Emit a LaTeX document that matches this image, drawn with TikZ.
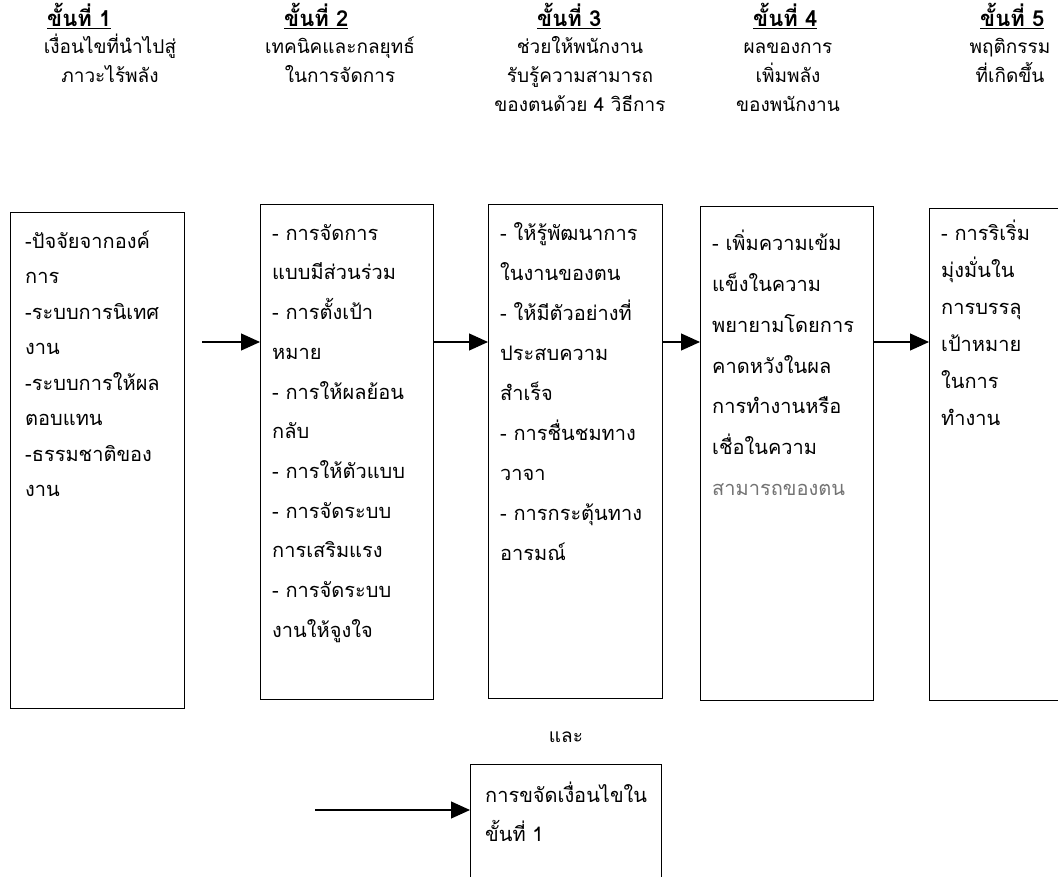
\documentclass[tikz,border=0pt]{standalone}
\usepackage{fontspec}
\usepackage{tikz}
\usetikzlibrary{arrows.meta}
\newfontfamily\thaifont[Script=Thai]{Loma}
\newcommand{\tallstrut}{\rule{0pt}{20pt}}
\tikzset{
    box/.style={draw, rectangle, line width=1.1pt, anchor=north west, inner sep=0pt},
    boxtext/.style={anchor=north west, align=left, inner sep=0pt,
        font=\thaifont\fontsize{20}{#1}\selectfont},
    boxtext/.default=39,
    head/.style={anchor=base west, inner sep=0pt,
        font=\thaifont\bfseries\fontsize{22}{29}\selectfont},
    desc/.style={anchor=north, align=center, inner sep=0pt,
        font=\thaifont\fontsize{19}{29}\selectfont},
    arr/.style={line width=1.1pt, -{Triangle[length=19pt, width=17pt]}}
}

\begin{document}
\begin{tikzpicture}[x=1pt, y=-1pt]
	\useasboundingbox (0,0) rectangle (1058,877);

	% headings
	\node (h1) [head] at (47,27) {\underline{ขั้นที่ 1}};
	\node (h2) [head] at (284,27) {\underline{ขั้นที่ 2}};
	\node (h3) [head] at (537,27) {\underline{ขั้นที่ 3}};
	\node (h4) [head] at (753,27) {\underline{ขั้นที่ 4}};
	\node (h5) [head] at (980,27) {\underline{ขั้นที่ 5}};
	\node (d1) [desc] at (110,33) {\tallstrut เงื่อนไขที่นำไปสู่\\ภาวะไร้พลัง};
	\node (d2) [desc] at (340,33) {\tallstrut เทคนิคและกลยุทธ์\\ในการจัดการ};
	\node (d3) [desc] at (580,33) {\tallstrut ช่วยให้พนักงาน\\รับรู้ความสามารถ\\ของตนด้วย 4 วิธีการ};
	\node (d4) [desc] at (788,33) {\tallstrut ผลของการ\\เพิ่มพลัง\\ของพนักงาน};
	\node (d5) [desc] at (1010,33) {\tallstrut พฤติกรรม\\ที่เกิดขึ้น};

	% boxes
	\node (b1) [box, minimum width=174pt, minimum height=496pt] at (10,212) {};
	\node (b2) [box, minimum width=173pt, minimum height=495pt] at (260,204) {};
	\node (b3) [box, minimum width=174pt, minimum height=494pt] at (488,204) {};
	\node (b4) [box, minimum width=173pt, minimum height=494pt] at (700,206) {};
	\node (b5) [box, minimum width=140pt, minimum height=492pt] at (929,208) {};
	\node (b6) [box, minimum width=191pt, minimum height=120pt] at (470,764) {};

	% box texts
	\node (t1) [boxtext=35.5] at (25,228) {\tallstrut -ปัจจัยจากองค์\\การ\\-ระบบการนิเทศ\\งาน\\-ระบบการให้ผล\\ตอบแทน\\-ธรรมชาติของ\\งาน};
	\node (t2) [boxtext=39.7] at (272,220) {\tallstrut - การจัดการ\\แบบมีส่วนร่วม\\- การตั้งเป้า\\หมาย\\- การให้ผลย้อน\\กลับ\\- การให้ตัวแบบ\\- การจัดระบบ\\การเสริมแรง\\- การจัดระบบ\\งานให้จูงใจ};
	\node (t3) [boxtext=40] at (500,220) {\tallstrut - ให้รู้พัฒนาการ\\ในงานของตน\\- ให้มีตัวอย่างที่\\ประสบความ\\สำเร็จ\\- การชื่นชมทาง\\วาจา\\- การกระตุ้นทาง\\อารมณ์};
	\node (t4) [boxtext=40.8] at (712,230) {\tallstrut - เพิ่มความเข้ม\\แข็งในความ\\พยายามโดยการ\\คาดหวังในผล\\การทำงานหรือ\\เชื่อในความ\\\textcolor{black!55}{สามารถของตน}};
	\node (t5) [boxtext=37] at (941,220) {\tallstrut - การริเริ่ม\\มุ่งมั่นใน\\การบรรลุ\\เป้าหมาย\\ในการ\\ทำงาน};
	\node (t6) [boxtext=39] at (485,782) {\tallstrut การขจัดเงื่อนไขใน\\ขั้นที่ 1};
	\node (and) [desc] at (566,722) {\tallstrut และ};

	% arrows
	\coordinate (a1) at (202,342);
	\coordinate (a5) at (315,810);
	\draw[arr] (a1) -- (a1 -| b2.west);
	\draw[arr] (b2.east |- a1) -- (b3.west |- a1);
	\draw[arr] (b3.east |- a1) -- (b4.west |- a1);
	\draw[arr] (b4.east |- a1) -- (b5.west |- a1);
	\draw[arr] (a5) -- (a5 -| b6.west);
\end{tikzpicture}
\end{document}
